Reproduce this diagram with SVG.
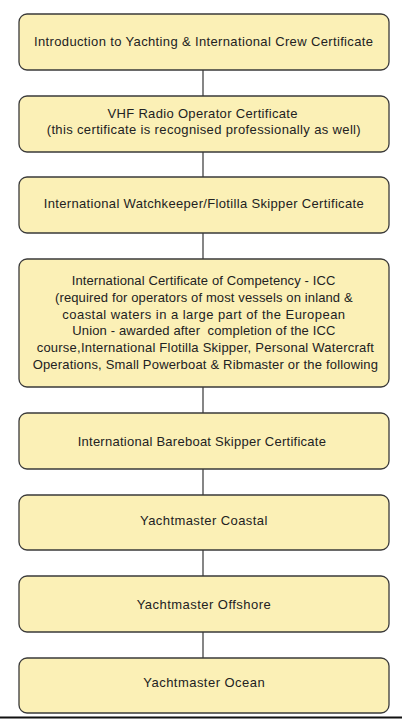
<svg xmlns="http://www.w3.org/2000/svg" width="402" height="719" viewBox="0 0 402 719">
<style>
.box{fill:#fbf0b6;stroke:#3a3a3a;stroke-width:1.3}
.t{font-family:"Liberation Sans",Arial,sans-serif;font-size:13px;fill:#222;text-anchor:middle}
.c{stroke:#444;stroke-width:1.3;fill:none}
</style>
<rect width="402" height="719" fill="#fff"/>
<g id="connectors">
<line class="c" x1="203" y1="70" x2="203" y2="96"/>
<line class="c" x1="203" y1="152" x2="203" y2="177"/>
<line class="c" x1="203" y1="233" x2="203" y2="259"/>
<line class="c" x1="203" y1="387" x2="203" y2="413"/>
<line class="c" x1="203" y1="469" x2="203" y2="495"/>
<line class="c" x1="203" y1="550" x2="203" y2="576"/>
<line class="c" x1="203" y1="632" x2="203" y2="658"/>
</g>
<g id="n1"><rect class="box" x="19" y="14" width="370" height="56" rx="8"/><text class="t" x="203.5" y="45.5" textLength="339" lengthAdjust="spacing">Introduction to Yachting &amp; International Crew Certificate</text></g>
<g id="n2"><rect class="box" x="19" y="96" width="370" height="56" rx="8"/><text class="t" x="202.5" y="117.5" textLength="190" lengthAdjust="spacing">VHF Radio Operator Certificate</text><text class="t" x="203.7" y="133.5" textLength="314" lengthAdjust="spacing">(this certificate is recognised professionally as well)</text></g>
<g id="n3"><rect class="box" x="19" y="177" width="370" height="56" rx="8"/><text class="t" x="203.7" y="207.5" textLength="320" lengthAdjust="spacing">International Watchkeeper/Flotilla Skipper Certificate</text></g>
<g id="n4"><rect class="box" x="19" y="259" width="370" height="128" rx="8"/>
<text class="t" x="203.5" y="285" textLength="263.6" lengthAdjust="spacing">International Certificate of Competency - ICC</text>
<text class="t" x="203.8" y="302" textLength="297.7" lengthAdjust="spacing">(required for operators of most vessels on inland &amp;</text>
<text class="t" x="203.7" y="318.5" textLength="282.7" lengthAdjust="spacing">coastal waters in a large part of the European</text>
<text class="t" x="203.8" y="335" textLength="263" lengthAdjust="spacing" xml:space="preserve">Union - awarded after  completion of the ICC</text>
<text class="t" x="205.3" y="352" textLength="337.3" lengthAdjust="spacing">course,International Flotilla Skipper, Personal Watercraft</text>
<text class="t" x="205.3" y="368.5" textLength="345.3" lengthAdjust="spacing">Operations, Small Powerboat &amp; Ribmaster or the following</text>
</g>
<g id="n5"><rect class="box" x="19" y="413" width="370" height="56" rx="8"/><text class="t" x="201.8" y="446" textLength="248.3" lengthAdjust="spacing">International Bareboat Skipper Certificate</text></g>
<g id="n6"><rect class="box" x="19" y="495" width="370" height="55" rx="8"/><text class="t" x="203.7" y="524.5" textLength="127.3" lengthAdjust="spacing">Yachtmaster Coastal</text></g>
<g id="n7"><rect class="box" x="19" y="576" width="370" height="56" rx="8"/><text class="t" x="203.7" y="608.5" textLength="134" lengthAdjust="spacing">Yachtmaster Offshore</text></g>
<g id="n8"><rect class="box" x="19" y="658" width="370" height="55" rx="8"/><text class="t" x="204" y="687" textLength="121.3" lengthAdjust="spacing">Yachtmaster Ocean</text></g>
<line x1="0" y1="717.5" x2="402" y2="717.5" stroke="#111" stroke-width="2"/>
</svg>
